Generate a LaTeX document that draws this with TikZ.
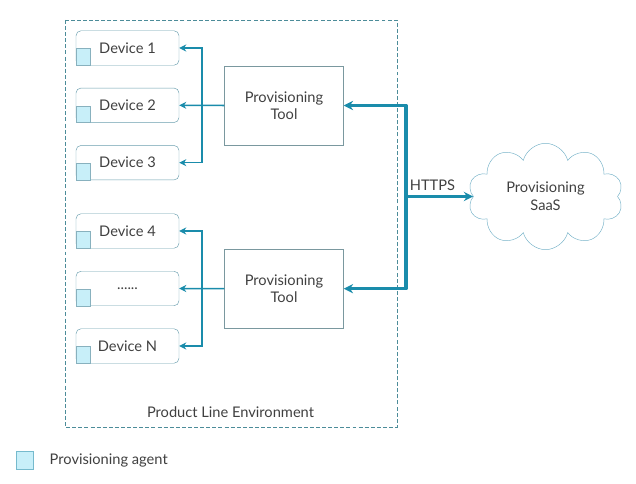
\documentclass[tikz,border=0pt]{standalone}
\usepackage{fontspec}
\setmainfont{Lato}
\usetikzlibrary{arrows.meta, positioning, shapes.symbols}
\definecolor{inkgray}{HTML}{404040}
\definecolor{linkteal}{HTML}{1A8CAB}
\definecolor{boxedge}{HTML}{6A9EAE}
\definecolor{tooledge}{HTML}{7A989F}
\definecolor{agentfill}{HTML}{C8EFF9}
\definecolor{cloudedge}{HTML}{76B2C8}
\definecolor{envedge}{HTML}{4C8C99}
\newcommand{\moredevices}{......}

\begin{document}
\begin{tikzpicture}[x=0.03cm, y=-0.03cm,
  font=\fontsize{12.5}{15}\selectfont, text=inkgray,
  device/.style={draw=boxedge, rounded corners=0.15cm, minimum width=3.09cm,
    minimum height=1.035cm, inner sep=0pt},
  agent/.style={draw=boxedge!80, fill=agentfill, minimum width=0.42cm,
    minimum height=0.5cm, inner sep=0pt, anchor=south west},
  tool/.style={draw=tooledge, minimum width=3.57cm, minimum height=2.37cm, align=center},
  thinarrow/.style={draw=linkteal, line width=1.3pt, -{Stealth[length=6pt,width=6pt]}},
  thickarrow/.style={draw=linkteal, line width=3pt, line join=round,
    -{Stealth[length=8pt,width=8pt]}}]
  \useasboundingbox (0,0) rectangle (636,484);

  % Environment frame
  \draw[envedge, dash pattern=on 3.4pt off 1.8pt] (65,20) rectangle (397,427);
  \node (envlabel) at (230.5,412) {Product Line Environment};

  % Devices with their agents
  \foreach \name/\txt/\y in {dev1/Device 1/48, dev2/Device 2/105.3, dev3/Device 3/162.7,
      dev4/Device 4/231, devdots/\moredevices/288.5, devN/Device N/346} {
    \node[device] (\name) at (127.5,\y) {\txt};
    \node[agent] at (\name.south west) {};
  }

  % Provisioning tools
  \node[tool] (tool1) at (284,105.5) {Provisioning\\Tool};
  \node[tool] (tool2) at (284,288.7) {Provisioning\\Tool};

  % Cloud service
  \node[cloud, cloud puffs=10, aspect=1.5, draw=cloudedge, minimum width=4.65cm,
    minimum height=3.09cm, align=center] (saas) at (545.5,196.5) {Provisioning\\SaaS};

  % Fan-out to devices
  \coordinate (fanA) at (202,0);
  \draw[thinarrow] (tool1.west) -- (dev2.east);
  \draw[thinarrow] (fanA |- dev2.east) |- (dev1.east);
  \draw[thinarrow] (fanA |- dev2.east) |- (dev3.east);
  \draw[thinarrow] (tool2.west) -- (devdots.east);
  \draw[thinarrow] (fanA |- devdots.east) |- (dev4.east);
  \draw[thinarrow] (fanA |- devdots.east) |- (devN.east);

  % HTTPS links
  \coordinate (bus) at (406,0);
  \draw[thickarrow] (bus |- saas.west) |- (tool1.east);
  \draw[thickarrow] (bus |- saas.west) |- (tool2.east);
  \draw[thickarrow] (bus |- saas.west) -- (saas.west);
  \node (https) at (432.5,185) {HTTPS};

  % Legend
  \node[agent, draw=linkteal!60, minimum width=0.51cm, minimum height=0.53cm,
    anchor=center] (legendbox) at (24.5,460.5) {};
  \node[right=0.37cm of legendbox] (legendtext) {Provisioning agent};
\end{tikzpicture}
\end{document}
